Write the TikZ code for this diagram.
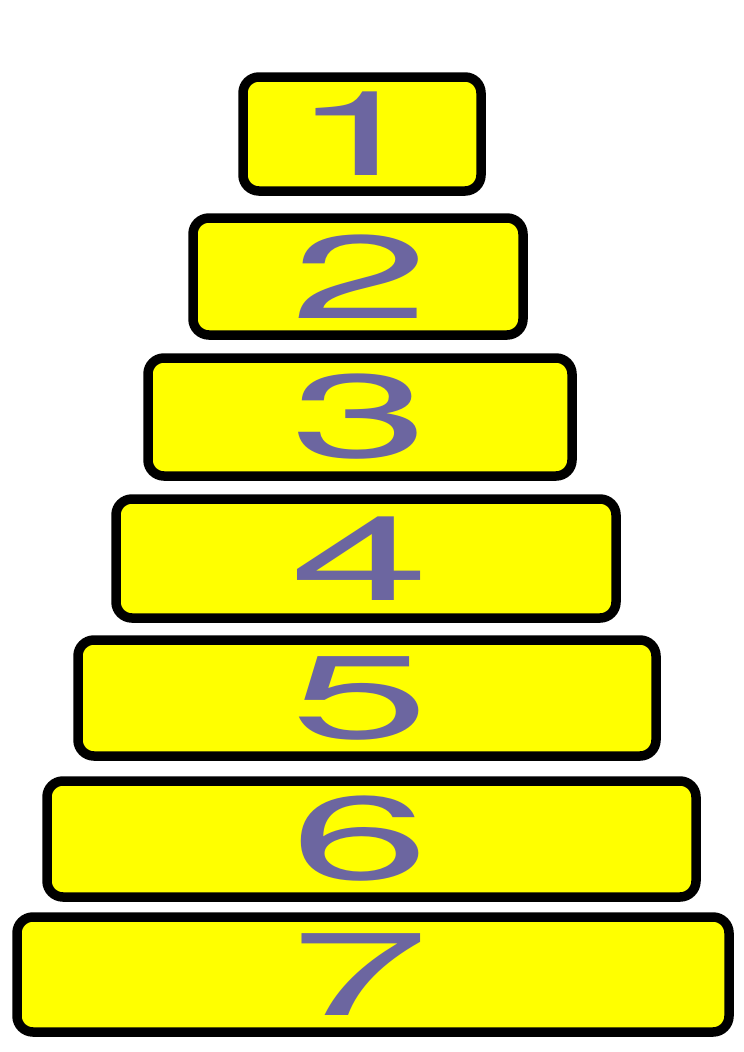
\documentclass[tikz,border=0pt]{standalone}
\usepackage{fontspec}
\newfontfamily\digitfont{TeX Gyre Heros}
\definecolor{digit}{HTML}{6C66A0}
\definecolor{boxfill}{HTML}{FFFF00}
\begin{document}
\begin{tikzpicture}[x=1pt,y=-1pt,
  ring/.style={draw=black,line width=9.5pt,fill=boxfill,rounded corners=16pt},
  num/.style={text=digit,inner sep=0pt,font=\digitfont\fontsize{118}{118}\selectfont}]
\useasboundingbox (0,0) rectangle (744,1052);
\foreach \i/\l/\r/\t/\b in {1/243/481/77/191, 2/193/523/218/335, 3/148/572/358/476, 4/116/616/499/618, 5/78/656/640/756, 6/47/696/781/897, 7/17/729/917/1032}{
  \draw[ring] (\l,\t) rectangle (\r,\b);
  \node[num] (n\i) at (360,{(\t+\b)/2}) {\scalebox{2.12}[1]{\i}};
}
\end{tikzpicture}
\end{document}
